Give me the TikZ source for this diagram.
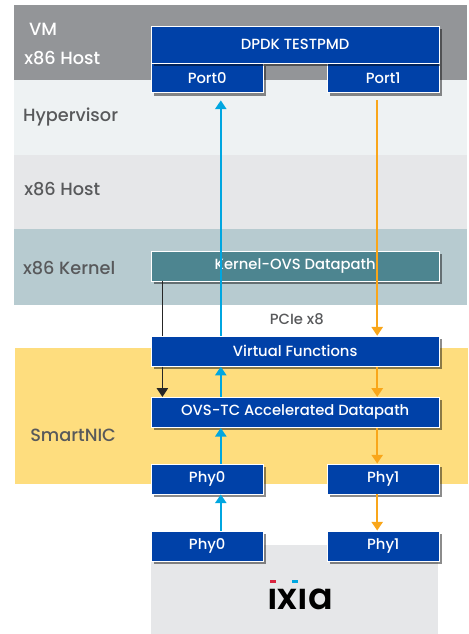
\documentclass[tikz,border=0pt]{standalone}
\usepackage{fontspec}
\setmainfont{Poppins Medium}[BoldFont=Poppins SemiBold]
\usepackage{tikz}
\usetikzlibrary{arrows.meta,shadows}

\definecolor{vmgrey}{HTML}{939598}
\definecolor{hypgrey}{HTML}{EEF2F3}
\definecolor{hostgrey}{HTML}{E6E7E9}
\definecolor{kernelblue}{HTML}{B7CBD0}
\definecolor{nicyellow}{HTML}{FEDD7E}
\definecolor{boxblue}{HTML}{0041A8}
\definecolor{boxteal}{HTML}{4D8590}
\definecolor{rxblue}{HTML}{00A6E0}
\definecolor{txorange}{HTML}{F9A61A}
\definecolor{labelgrey}{HTML}{58595B}
\definecolor{ixiared}{HTML}{D9243F}

\tikzset{
	band/.style={shape=rectangle,anchor=north west,inner sep=0pt,minimum width=11.325cm},
	bandlabel/.style={anchor=west,inner sep=0pt,text=labelgrey,font=\fontsize{12.6}{14}\selectfont},
	hw/.style={shape=rectangle,draw=white,line width=0.6pt,fill=boxblue,text=white,inner sep=0pt,
		minimum height=0.75cm,font=\fontsize{10.5}{12}\selectfont,
		drop shadow={shadow xshift=0.07cm,shadow yshift=-0.07cm,opacity=0.45,fill=black}},
	wide/.style={hw,minimum width=7.19cm},
	narrow/.style={hw,minimum width=2.79cm},
	tip/.style={-{Triangle[width=0.28cm,length=0.22cm]}},
	rx/.style={draw=rxblue,line width=1.4pt,tip},
	tx/.style={draw=txorange,line width=1.4pt,tip},
	ctl/.style={draw=black!85,line width=1.1pt}
}

\begin{document}
\begin{tikzpicture}
	\useasboundingbox (0,0) rectangle (11.725,15.85);

	% layers
	\node[band,fill=vmgrey,minimum height=1.875cm] (vm) at (0.35, 15.725) {};
	\node[band,fill=hypgrey,minimum height=1.875cm] (hyp) at (0.35, 13.85) {};
	\node[band,fill=hostgrey,minimum height=1.85cm] (host) at (0.35, 11.975) {};
	\node[band,fill=kernelblue,minimum height=1.9cm] (kernel) at (0.35, 10.125) {};
	\node[band,fill=nicyellow,minimum height=3.4cm] (nic) at (0.375, 7.15) {};
	\node[band,fill=hostgrey,minimum width=7.175cm,minimum height=2.225cm] (ixiabox) at (3.775, 2.225) {};

	\node[bandlabel,text=white] (vmlabel) at (0.72, 15.125) {VM};
	\node[bandlabel,text=white] (vmhostlabel) at (0.6, 14.4) {x86 Host};
	\node[bandlabel] (hyplabel) at (0.57, 12.92) {Hypervisor};
	\node[bandlabel] (hostlabel) at (0.6, 11.125) {x86 Host};
	\node[bandlabel] (kernellabel) at (0.57, 9.15) {x86 Kernel};
	\node[bandlabel] (niclabel) at (0.75, 4.97) {SmartNIC};

	% boxes
	\node[narrow] (port0) at (5.18, 13.906) {Port0};
	\node[narrow] (port1) at (9.58, 13.906) {Port1};
	\node[wide,minimum height=0.925cm] (dpdk) at (7.38, 14.7375) {DPDK TESTPMD};
	\node[wide,fill=boxteal] (ovs) at (7.38, 9.2) {Kernel-OVS Datapath};
	\node[wide] (vf) at (7.38, 7.07) {Virtual Functions};
	\node[wide] (tc) at (7.38, 5.54) {OVS-TC Accelerated Datapath};
	\node[narrow] (nicphy0) at (5.18, 3.875) {Phy0};
	\node[narrow] (nicphy1) at (9.58, 3.875) {Phy1};
	\node[narrow] (extphy0) at (5.18, 2.2) {Phy0};
	\node[narrow] (extphy1) at (9.58, 2.2) {Phy1};

	\node[inner sep=0pt,text=labelgrey,font=\fontsize{10.5}{12}\selectfont] (pcie) at (7.42, 7.87) {PCIe x8};

	\node[inner sep=0pt,text=black,font=\fontsize{26}{28}\selectfont\bfseries] (ixia) at (7.5, 0.86) {\i x\i a};
	\fill[ixiared] (6.76, 1.36) rectangle (6.9, 1.28);
	\fill[rxblue] (7.3, 1.36) rectangle (7.44, 1.28);

	% connectors
	\coordinate (rxline) at (5.52, 0);
	\coordinate (txline) at (9.43, 0);
	\coordinate (ctlline) at (4.06, 0);

	\draw[rx,shorten >=0.18cm] (vf.north -| rxline) -- (port0.south -| rxline);
	\draw[rx] (tc.north -| rxline) -- (vf.south -| rxline);
	\draw[rx] (nicphy0.north -| rxline) -- (tc.south -| rxline);
	\draw[rx] (extphy0.north -| rxline) -- (nicphy0.south -| rxline);

	\draw[tx,shorten <=0.18cm] (port1.south -| txline) -- (vf.north -| txline);
	\draw[tx] (vf.south -| txline) -- (tc.north -| txline);
	\draw[tx] (tc.south -| txline) -- (nicphy1.north -| txline);
	\draw[tx] (nicphy1.south -| txline) -- (extphy1.north -| txline);

	\draw[ctl] (ovs.south -| ctlline) -- (vf.north -| ctlline);
	\draw[ctl,tip] (vf.south -| ctlline) -- (tc.north -| ctlline);
\end{tikzpicture}
\end{document}
